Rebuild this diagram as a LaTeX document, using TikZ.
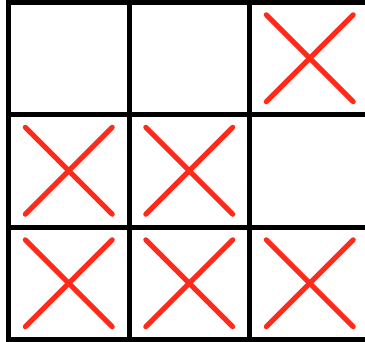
\documentclass[tikz,border=0pt]{standalone}
\usepackage{tikz}
\usetikzlibrary{positioning}
\definecolor{xred}{RGB}{255,42,26}
\tikzset{
  cell/.style ={draw, minimum width=120.5pt, minimum height=112.5pt,
                inner sep=0pt, line width=5pt, fill=none},
  xmark/.style={line width=5pt, xred, line cap=round},
}
\newcommand{\cross}[1]{%
  \draw[xmark] (#1.center) ++(-43.5,-43.5) -- ++(87,87);
  \draw[xmark] (#1.center) ++(-43.5,43.5) -- ++(87,-87);}

\begin{document}
\begin{tikzpicture}[x=1pt,y=-1pt]
  \useasboundingbox (0,0) rectangle (365,341);
  \node[cell] (c11) at (68.75,58.25) {};
  \node[cell] (c12) at (189.25,58.25) {};
  \node[cell] (c13) at (309.75,58.25) {};
  \node[cell] (c21) at (68.75,170.75) {};
  \node[cell] (c22) at (189.25,170.75) {};
  \node[cell] (c23) at (309.75,170.75) {};
  \node[cell] (c31) at (68.75,283.25) {};
  \node[cell] (c32) at (189.25,283.25) {};
  \node[cell] (c33) at (309.75,283.25) {};
  \cross{c13}
  \cross{c21}
  \cross{c22}
  \cross{c31}
  \cross{c32}
  \cross{c33}
\end{tikzpicture}
\end{document}
